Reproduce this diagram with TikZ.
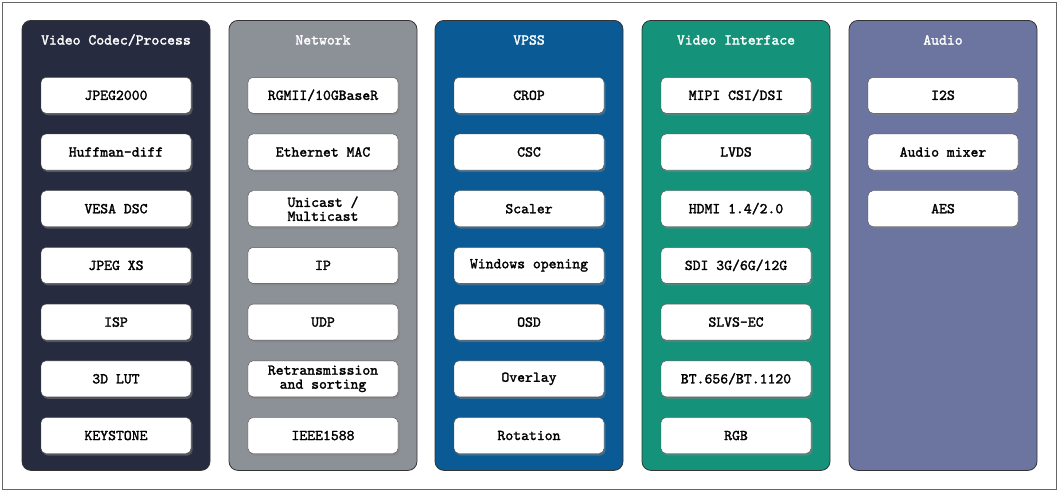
\documentclass[tikz,border=0pt]{standalone}
\usepackage{fontspec}
\newfontfamily\mono{lmmono10-regular.otf}[FakeBold=1.8]
\usetikzlibrary{shadows,calc}
\definecolor{c1}{HTML}{272B3F}
\definecolor{c2}{HTML}{8C9097}
\definecolor{c3}{HTML}{0A5A96}
\definecolor{c4}{HTML}{15937A}
\definecolor{c5}{HTML}{6C74A0}
\tikzset{
 col/.style={draw=black!80, line width=0.8pt, rounded corners=9pt, minimum width=188pt, minimum height=450pt, anchor=north},
 ttl/.style={text=white, font=\mono\fontsize{15}{15}\selectfont},
 item/.style={draw=black!70, fill=white, rounded corners=5pt, minimum width=150pt, minimum height=36pt, align=center, inner sep=1pt, font=\mono\fontsize{15}{14}\selectfont, drop shadow={shadow xshift=1.5pt, shadow yshift=-2pt, opacity=0.5}},
}
\begin{document}
\begin{tikzpicture}[x=1pt,y=-1pt]
\draw[black!60, line width=0.8pt] (2,2) rectangle (1056,489);
\useasboundingbox (0,0) rectangle (1059,491);
\foreach \c/\x/\t in {1/116/{Video Codec/Process}, 2/323/Network, 3/529/VPSS, 4/736/Video Interface, 5/943/Audio}{
  \node[col, fill=c\c] (col\c) at (\x,20) {};
  \node[ttl] (t\c) at (\x,40) {\t};
}
\def\rows#1#2{\foreach \s [count=\i] in {#2}{\node[item] (b#1-\i) at ($(col#1.north)+(0,75.3+56.7*\i-56.7)$) {\s};}}
\rows{1}{JPEG2000,Huffman-diff,VESA DSC,JPEG XS,ISP,3D LUT,KEYSTONE}
\rows{2}{RGMII/10GBaseR,Ethernet MAC,{Unicast /\\Multicast},IP,UDP,{Retransmission\\and sorting},IEEE1588}
\rows{3}{CROP,CSC,Scaler,Windows opening,OSD,Overlay,Rotation}
\rows{4}{MIPI CSI/DSI,LVDS,HDMI 1.4/2.0,SDI 3G/6G/12G,SLVS-EC,BT.656/BT.1120,RGB}
\rows{5}{I2S,Audio mixer,AES}
\end{tikzpicture}
\end{document}
